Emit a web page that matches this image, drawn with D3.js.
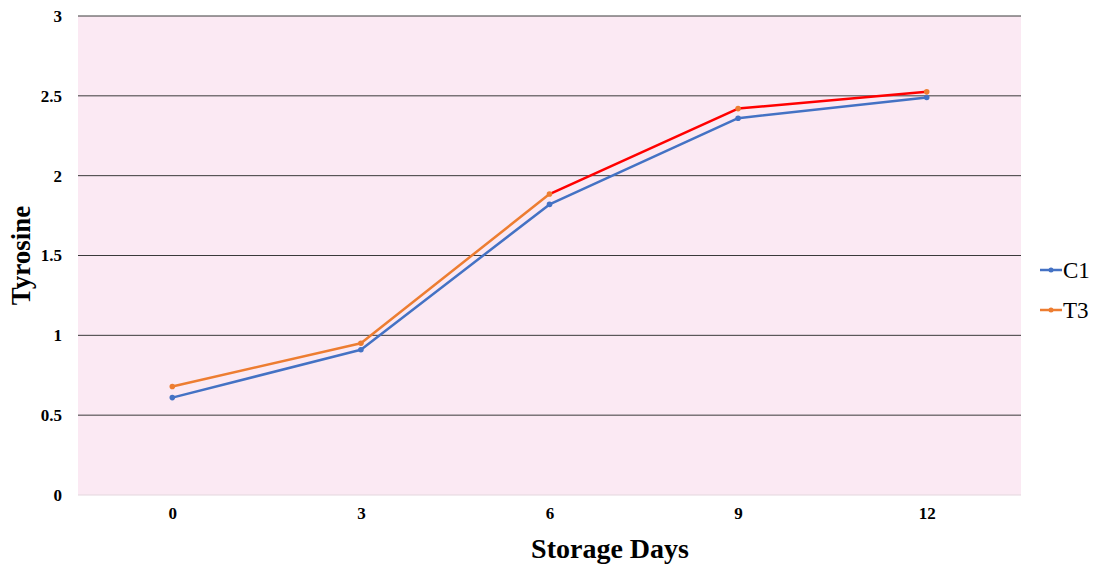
<!DOCTYPE html>
<html><head><meta charset="utf-8">
<script src="https://cdn.jsdelivr.net/npm/d3@7"></script>
<style>body{margin:0;background:#fff}svg{display:block}</style>
</head><body>
<svg id="c" width="1099" height="567"></svg>
<script>
const categories = ["0","3","6","9","12"];
const c1 = [0.61, 0.91, 1.82, 2.36, 2.49];
const t3 = [0.68, 0.95, 1.885, 2.42, 2.525];
const t3SegColors = ["#ED7D31", "#ED7D31", "#FF0000", "#FF0000"];
const yTicks = [0, 0.5, 1, 1.5, 2, 2.5, 3];
const seriesNames = ["C1", "T3"];
const seriesColors = ["#4472C4", "#ED7D31"];

const svg = d3.select("#c");
const L = 78, R = 1021, T = 16, B = 495;
const x = d3.scalePoint().domain(categories).range([L, R]).padding(0.5);
const y = d3.scaleLinear().domain([0, 3]).range([B, T]);
const font = "'Liberation Serif','Times New Roman',serif";

svg.append("rect").attr("x", L).attr("y", T).attr("width", R - L).attr("height", B - T).attr("fill", "#FBE9F3");

// gridlines
svg.append("g").selectAll("line").data(yTicks.filter(d => d > 0)).join("line")
  .attr("x1", L).attr("x2", R).attr("y1", d => y(d)).attr("y2", d => y(d))
  .attr("stroke", "#3a3a3a").attr("stroke-width", 1);
svg.append("line").attr("x1", L).attr("x2", R).attr("y1", y(0)).attr("y2", y(0))
  .attr("stroke", "#e3d6dd").attr("stroke-width", 1);

// y tick labels
const yAxis = svg.append("g").attr("transform", `translate(${L},0)`)
  .call(d3.axisLeft(y).tickValues(yTicks).tickSize(0).tickPadding(16).tickFormat(d => String(d)));
yAxis.select(".domain").remove();
yAxis.selectAll("text").attr("font-family", font).attr("font-weight", "bold").attr("font-size", 17).attr("fill", "#000");

// x tick labels
const xAxis = svg.append("g").attr("transform", `translate(0,${B})`)
  .call(d3.axisBottom(x).tickSize(0).tickPadding(12));
xAxis.select(".domain").remove();
xAxis.selectAll("text").attr("font-family", font).attr("font-weight", "bold").attr("font-size", 17).attr("fill", "#000");

// C1 line
const line = d3.line().x((d, i) => x(categories[i])).y(d => y(d));
svg.append("path").datum(c1).attr("d", line).attr("fill", "none")
  .attr("stroke", seriesColors[0]).attr("stroke-width", 2.5).attr("stroke-linejoin", "round");

// T3 segments
const segs = t3.slice(0, -1).map((v, i) => ({ a: v, b: t3[i + 1], i, color: t3SegColors[i] }));
svg.append("g").selectAll("line").data(segs).join("line")
  .attr("x1", d => x(categories[d.i])).attr("y1", d => y(d.a))
  .attr("x2", d => x(categories[d.i + 1])).attr("y2", d => y(d.b))
  .attr("stroke", d => d.color).attr("stroke-width", 2.5).attr("stroke-linecap", "round");

// markers
svg.append("g").selectAll("circle").data(c1).join("circle")
  .attr("cx", (d, i) => x(categories[i])).attr("cy", d => y(d)).attr("r", 2.8).attr("fill", seriesColors[0]);
svg.append("g").selectAll("circle").data(t3).join("circle")
  .attr("cx", (d, i) => x(categories[i])).attr("cy", d => y(d)).attr("r", 2.8).attr("fill", seriesColors[1]);

// axis titles
svg.append("text").attr("x", 610).attr("y", 558).attr("text-anchor", "middle")
  .attr("font-family", font).attr("font-weight", "bold").attr("font-size", 28).text("Storage Days");
svg.append("text").attr("transform", `translate(30,${(T + B) / 2}) rotate(-90)`).attr("text-anchor", "middle")
  .attr("font-family", font).attr("font-weight", "bold").attr("font-size", 27).text("Tyrosine");

// legend
const lg = svg.append("g").selectAll("g").data(seriesNames).join("g")
  .attr("transform", (d, i) => `translate(1040,${270 + i * 40})`);
lg.append("line").attr("x1", 0).attr("x2", 22).attr("y1", 0).attr("y2", 0)
  .attr("stroke", (d, i) => seriesColors[i]).attr("stroke-width", 2.5);
lg.append("circle").attr("cx", 11).attr("cy", 0).attr("r", 2.5).attr("fill", (d, i) => seriesColors[i]);
lg.append("text").attr("x", 23).attr("y", 8).attr("font-family", font).attr("font-size", 23).text(d => d);
</script>
</body></html>
